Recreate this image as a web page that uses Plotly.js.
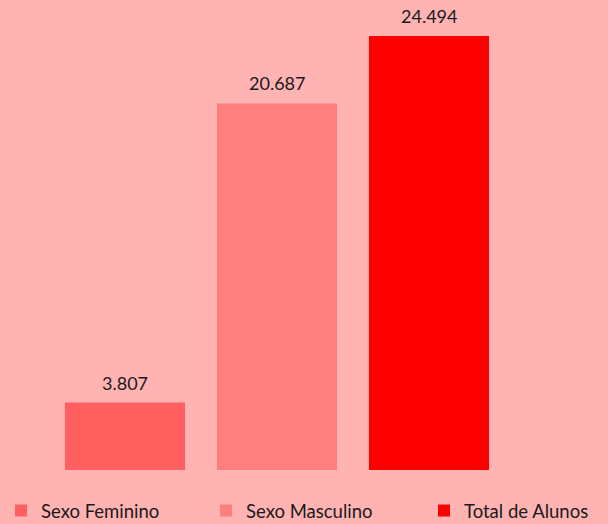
<!DOCTYPE html>
<html>
<head>
<meta charset="utf-8">
<script src="https://cdn.plot.ly/plotly-3.0.1.min.js"></script>
<style>html,body{margin:0;padding:0;background:#FFB3B3;}#chart{width:608px;height:524px;}</style>
</head>
<body>
<div id="chart"></div>
<script>
const categories = ['Sexo Feminino', 'Sexo Masculino', 'Total de Alunos'];
const values = [3807, 20687, 24494];
const colors = ['#FF5F5F', '#FF7F7F', '#FF0000'];

function fmt(v) { return String(v).replace(/\B(?=(\d{3})+(?!\d))/g, '.'); }

const legendIds = ['legend', 'legend2', 'legend3'];
const legendX = [1, 206, 424];

const traces = categories.map((c, i) => ({
  type: 'bar',
  name: c,
  x: [c],
  y: [values[i]],
  marker: { color: colors[i] },
  legend: legendIds[i],
  hoverinfo: 'none'
}));

const annotations = categories.map((c, i) => ({
  x: c, y: values[i], xref: 'x', yref: 'y',
  text: fmt(values[i]), showarrow: false,
  yanchor: 'bottom', yshift: 7,
  font: { family: 'Lato, sans-serif', size: 18, color: '#1a1a1a' }
}));

const layout = {
  width: 608, height: 524,
  paper_bgcolor: '#FFB3B3', plot_bgcolor: '#FFB3B3',
  margin: { l: 49, r: 103, t: 10, b: 54 },
  barmode: 'overlay',
  bargap: 0.21,
  xaxis: { type: 'category', range: [-0.5, 2.5], showticklabels: false, showgrid: false, zeroline: false, showline: false, ticks: '' },
  yaxis: { range: [0, 25961], visible: false, showgrid: false, zeroline: false },
  showlegend: true,
  annotations: annotations
};

legendIds.forEach((id, i) => {
  layout[id] = {
    orientation: 'h', xref: 'container', yref: 'container',
    x: legendX[i] / 608, xanchor: 'left', y: 13 / 524, yanchor: 'middle',
    font: { family: 'Lato, sans-serif', size: 18.5, color: '#1a1a1a' },
    bgcolor: 'rgba(0,0,0,0)', itemwidth: 30
  };
});

Plotly.newPlot('chart', traces, layout, { displayModeBar: false, staticPlot: true });
</script>
</body>
</html>
